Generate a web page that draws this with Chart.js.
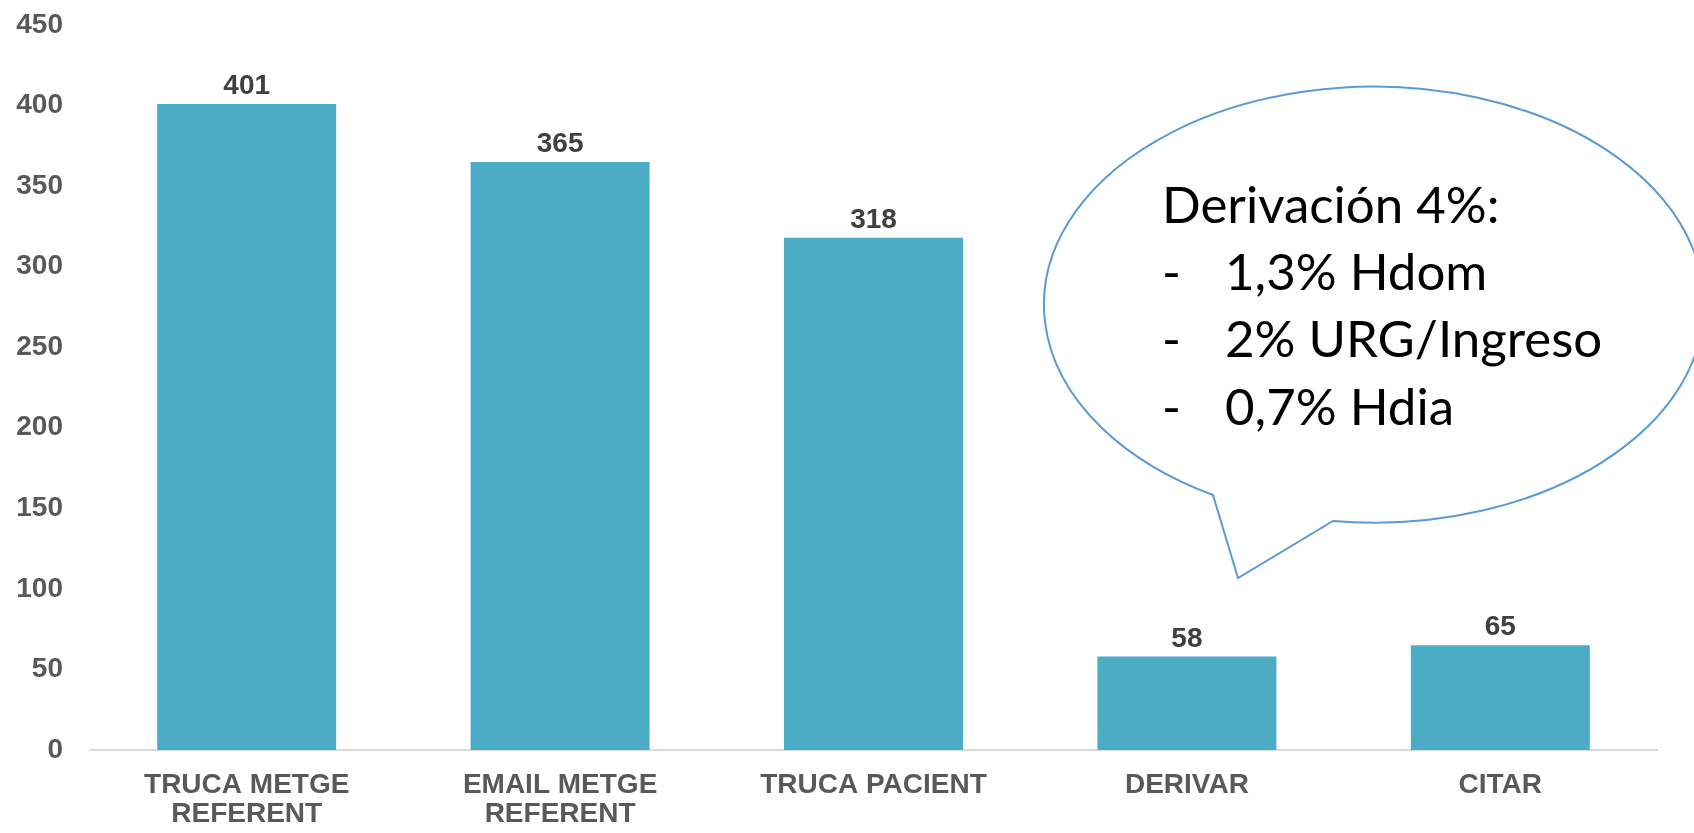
<!DOCTYPE html>
<html>
<head>
<meta charset="utf-8">
<title>Trucades</title>
<script src="https://cdn.jsdelivr.net/npm/chart.js@4.4.1/dist/chart.umd.min.js"></script>
<style>
  body { margin: 0; background: #fff; }
  #content { position: relative; width: 1694px; height: 833px; overflow: hidden; }
  #canvas { position: absolute; left: 0; top: 0; }
  #bubble { position: absolute; left: 0; top: 0; }
  #bubble text { font-family: Lato, "Open Sans", sans-serif; font-size: 51px; fill: #000; }
</style>
</head>
<body>
<div id="content">
  <canvas id="canvas" width="1694" height="833"></canvas>
  <svg id="bubble" width="1694" height="833">
    <path d="M1213 495 L1238 578 L1333 521 A330 218 0 1 0 1213 495 Z"
          fill="#fff" stroke="#5B9BD5" stroke-width="2" stroke-linejoin="miter"/>
    <text x="1162" y="223">Derivación 4%:</text>
    <text x="1162" y="290">-</text><text x="1225" y="290">1,3% Hdom</text>
    <text x="1162" y="357">-</text><text x="1225" y="357">2% URG/Ingreso</text>
    <text x="1162" y="425">-</text><text x="1225" y="425">0,7% Hdia</text>
  </svg>
</div>
<script>
// categories (multi-line labels) and values
const labels = [
  ['TRUCA METGE', 'REFERENT'],
  ['EMAIL METGE', 'REFERENT'],
  'TRUCA PACIENT',
  'DERIVAR',
  'CITAR'
]
const values = [401, 365, 318, 58, 65]
const yTicks = [0, 50, 100, 150, 200, 250, 300, 350, 400, 450]

const font = '"Liberation Sans", Arial, sans-serif'

// numbers above the bars
const valueLabels = {
  id: 'valueLabels',
  afterDatasetsDraw: function (chart) {
    var ctx = chart.ctx
    var meta = chart.getDatasetMeta(0)
    ctx.save()
    ctx.font = 'bold 28px ' + font
    ctx.fillStyle = '#404040'
    ctx.textAlign = 'center'
    ctx.textBaseline = 'alphabetic'
    meta.data.forEach(function (bar, i) {
      ctx.fillText(values[i], bar.x, bar.y - 10)
    })
    ctx.restore()
  }
}

const data = {
  labels: labels,
  datasets: [
    {
      label: 'Total',
      backgroundColor: '#4BACC6',
      borderWidth: 0,
      data: values,
      categoryPercentage: 1,
      barPercentage: 0.571,
    },
  ],
}

const config = {
  type: 'bar',
  data: data,
  plugins: [valueLabels],
  options: {
    responsive: false,
    animation: false,
    layout: { padding: { top: 25, right: 37, left: 0, bottom: 0 } },
    plugins: {
      legend: { display: false },
      tooltip: { enabled: false },
    },
    scales: {
      x: {
        grid: { display: false, drawTicks: false },
        border: { display: true, color: '#D9D9D9', width: 2 },
        ticks: {
          color: '#595959',
          font: { family: font, size: 28, weight: 'bold', lineHeight: 1.04 },
          padding: 21,
          maxRotation: 0,
          autoSkip: false,
        },
        afterFit: function (scale) { scale.height = 83 },
      },
      y: {
        min: 0,
        max: 450,
        grid: { display: false, drawTicks: false },
        border: { display: false },
        afterBuildTicks: function (scale) {
          scale.ticks = yTicks.map(function (v) { return { value: v } })
        },
        ticks: {
          color: '#595959',
          font: { family: font, size: 28, weight: 'bold' },
          padding: 27,
        },
        afterFit: function (scale) {
          scale.width = 90
          scale.paddingTop = 0
          scale.paddingBottom = 0
        },
      },
    },
  },
}

const canvas = document.getElementById('canvas')
const chart = new Chart(canvas, config)
</script>
</body>
</html>
